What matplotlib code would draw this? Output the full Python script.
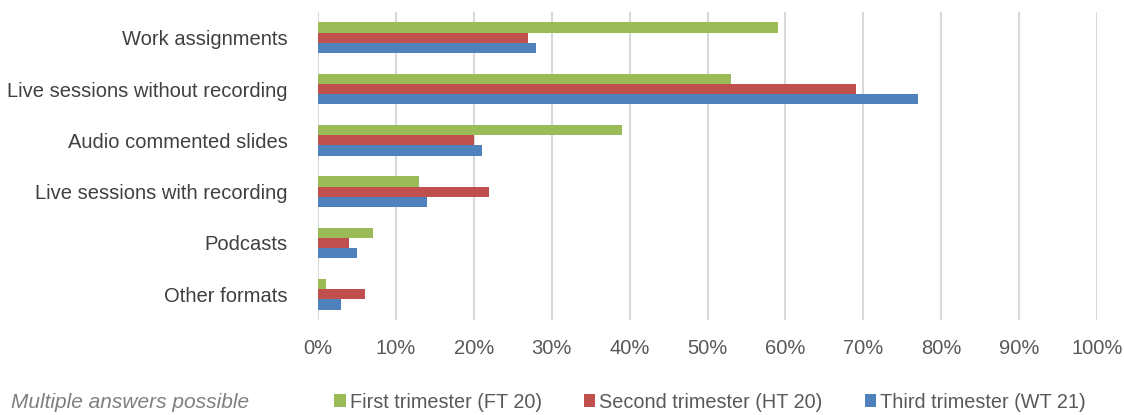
import matplotlib.pyplot as plt
import numpy as np
from matplotlib.ticker import PercentFormatter

plt.rcParams['font.family'] = ['Liberation Sans', 'DejaVu Sans']

categories = ["Work assignments", "Live sessions without recording",
              "Audio commented slides", "Live sessions with recording",
              "Podcasts", "Other formats"]
first_ft20 = [59, 53, 39, 13, 7, 1]
second_ht20 = [27, 69, 20, 22, 4, 6]
third_wt21 = [28, 77, 21, 14, 5, 3]
series_names = ["First trimester (FT 20)", "Second trimester (HT 20)",
                "Third trimester (WT 21)"]
colors = ["#9BBB59", "#C0504D", "#4F81BD"]

fig = plt.figure(figsize=(11.24, 4.15), dpi=100)
ax = fig.add_axes([0.283, 0.229, 0.693, 0.742])

y = np.arange(len(categories))
h = 0.2
for k, (vals, name, c) in enumerate(zip([first_ft20, second_ht20, third_wt21],
                                        series_names, colors)):
    ax.barh(y + (k - 1) * h, vals, height=h, color=c, label=name, zorder=3)

ax.set_xlim(0, 100)
ax.set_ylim(len(categories) - 0.5, -0.5)
ax.set_xticks(np.arange(0, 101, 10))
ax.xaxis.set_major_formatter(PercentFormatter(decimals=0))
ax.set_yticks(y)
ax.set_yticklabels(categories)
ax.grid(axis='x', color='#D9D9D9', linewidth=1.5, zorder=0)
for s in ax.spines.values():
    s.set_visible(False)
ax.tick_params(axis='both', length=0)
ax.tick_params(axis='x', labelsize=14.5, labelcolor='#595959', pad=14)
ax.tick_params(axis='y', labelsize=14.5, labelcolor='#404040', pad=22)

fig.text(0.01, 0.029, "Multiple answers possible", style='italic',
         fontsize=15, color='#7F7F7F', va='center')
fig.legend(loc='center left', bbox_to_anchor=(0.297, 0.031), ncol=3,
           frameon=False, fontsize=14.3, handlelength=0.6, handleheight=0.6,
           handletextpad=0.2, columnspacing=2.1, borderpad=0,
           borderaxespad=0, labelcolor='#595959')

fig.savefig("out.png", dpi=100)
